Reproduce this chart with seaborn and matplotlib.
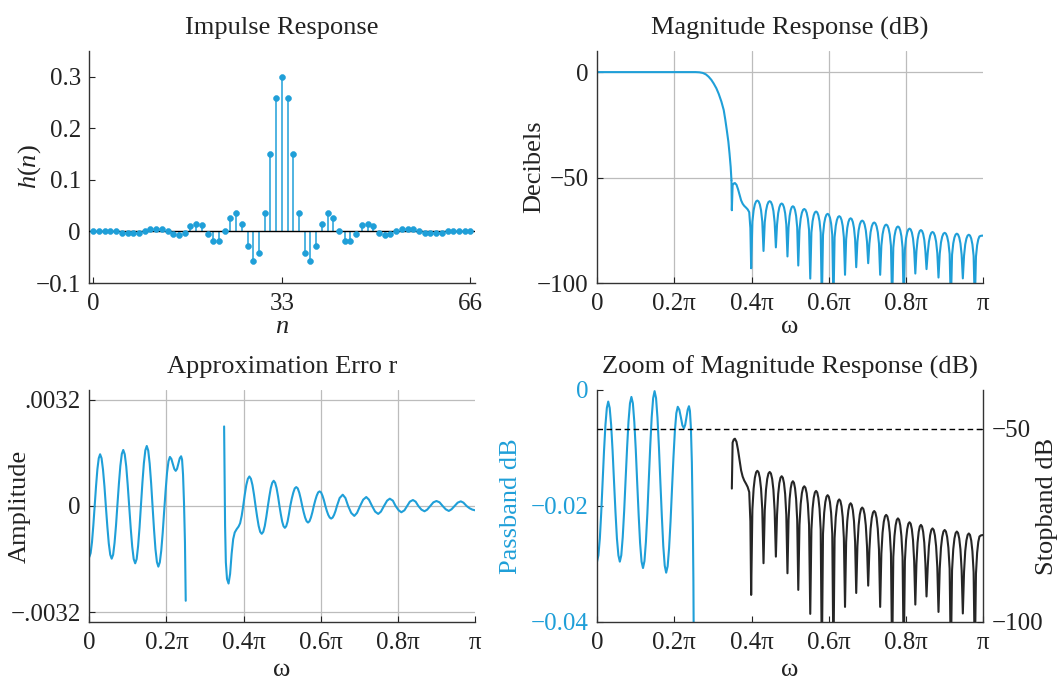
import matplotlib
matplotlib.use('Agg')
import matplotlib.pyplot as plt
import numpy as np
import seaborn as sns

sns.set_style('white')
plt.rcParams['font.family'] = ['Liberation Serif', 'DejaVu Serif']
plt.rcParams['mathtext.fontset'] = 'custom'
plt.rcParams['mathtext.rm'] = 'Liberation Serif'
plt.rcParams['mathtext.it'] = 'Liberation Serif:italic'

BLUE = '#1f9fd8'
INK = '#222222'
GRID = '#bcbcbc'

# impulse response h(n), n = 0..66
n_idx = list(range(67))
h_vals = [0.001, 0.001, 0.001, 0.001, 0.000, -0.002, -0.003, -0.003, -0.002, 0.001,
          0.004, 0.005, 0.004, 0.000, -0.005, -0.007, -0.003, 0.010, 0.015, 0.012,
          -0.005, -0.018, -0.018, 0.000, 0.026, 0.035, 0.014, -0.028, -0.058, -0.042,
          0.035, 0.151, 0.258, 0.300, 0.258, 0.151, 0.035, -0.042, -0.058, -0.028,
          0.014, 0.035, 0.026, 0.000, -0.018, -0.018, -0.005, 0.012, 0.015, 0.010,
          -0.003, -0.007, -0.005, 0.000, 0.004, 0.005, 0.004, 0.001, -0.002, -0.003,
          -0.003, -0.002, 0.000, 0.001, 0.001, 0.001, 0.001]

# magnitude response, passband + transition (omega / pi, dB)
tr_w = [0.000, 0.255, 0.265, 0.274, 0.282, 0.289, 0.296, 0.302, 0.309, 0.315,
        0.322, 0.328, 0.332, 0.336, 0.340, 0.343, 0.346, 0.348]
tr_db = [0.0, 0.0, -0.1, -0.4, -1.1, -2.2, -3.7, -5.4, -7.7, -10.3,
         -14.0, -18.0, -22.5, -27.6, -33.0, -38.6, -45.0, -51.3]

# magnitude response, stopband (omega / pi, dB), one row per lobe
sb_w = [0.349, 0.351, 0.354, 0.357, 0.361, 0.365, 0.369, 0.373, 0.377, 0.381,
        0.386, 0.390, 0.394, 0.397, 0.399,
        0.4022, 0.4054, 0.4086, 0.4118, 0.415, 0.4182, 0.4214, 0.4246, 0.4278, 0.431,
        0.4342, 0.4374, 0.4406, 0.4438, 0.447, 0.4502, 0.4534, 0.4566, 0.4598, 0.463,
        0.466, 0.469, 0.472, 0.475, 0.478, 0.481, 0.484, 0.487, 0.490, 0.493,
        0.4958, 0.4986, 0.5014, 0.5042, 0.507, 0.5098, 0.5126, 0.5154, 0.5182, 0.521,
        0.5241, 0.5272, 0.5303, 0.5334, 0.5365, 0.5396, 0.5427, 0.5458, 0.5489, 0.552,
        0.555, 0.558, 0.561, 0.564, 0.567, 0.570, 0.573, 0.576, 0.579, 0.582,
        0.585, 0.588, 0.591, 0.594, 0.597, 0.600, 0.603, 0.606, 0.609, 0.612,
        0.615, 0.618, 0.621, 0.624, 0.627, 0.630, 0.633, 0.636, 0.639, 0.642,
        0.6449, 0.6478, 0.6507, 0.6536, 0.6565, 0.6594, 0.6623, 0.6652, 0.6681, 0.671,
        0.6741, 0.6772, 0.6803, 0.6834, 0.6865, 0.6896, 0.6927, 0.6958, 0.6989, 0.702,
        0.7051, 0.7082, 0.7113, 0.7144, 0.7175, 0.7206, 0.7237, 0.7268, 0.7299, 0.733,
        0.7361, 0.7392, 0.7423, 0.7454, 0.7485, 0.7516, 0.7547, 0.7578, 0.7609, 0.764,
        0.767, 0.770, 0.773, 0.776, 0.779, 0.782, 0.785, 0.788, 0.791, 0.794,
        0.797, 0.800, 0.803, 0.806, 0.809, 0.812, 0.815, 0.818, 0.821, 0.824,
        0.8269, 0.8298, 0.8327, 0.8356, 0.8385, 0.8414, 0.8443, 0.8472, 0.8501, 0.853,
        0.8561, 0.8592, 0.8623, 0.8654, 0.8685, 0.8716, 0.8747, 0.8778, 0.8809, 0.884,
        0.8872, 0.8904, 0.8936, 0.8968, 0.900, 0.9032, 0.9064, 0.9096, 0.9128, 0.916,
        0.9191, 0.9222, 0.9253, 0.9284, 0.9315, 0.9346, 0.9377, 0.9408, 0.9439, 0.947,
        0.9501, 0.9532, 0.9563, 0.9594, 0.9625, 0.9656, 0.9687, 0.9718, 0.9749, 0.978,
        0.981, 0.984, 0.987, 0.990, 0.994, 1.000]
sb_db = [-65.5, -53.6, -52.8, -52.6, -53.4, -55.5, -58.2, -60.8, -62.4, -63.4,
         -64.3, -65.1, -66.4, -74.0, -93.0,
         -70.9, -65.5, -62.7, -61.3, -60.9, -61.3, -62.7, -65.5, -70.9, -84.8,
         -71.2, -65.8, -63.0, -61.6, -61.2, -61.6, -63.0, -65.8, -71.2, -83.1,
         -72.3, -66.9, -64.1, -62.7, -62.3, -62.7, -64.1, -66.9, -72.3, -87.4,
         -73.6, -68.2, -65.4, -64.0, -63.6, -64.0, -65.4, -68.2, -73.6, -91.7,
         -74.9, -69.5, -66.7, -65.3, -64.9, -65.3, -66.7, -69.5, -74.9, -97.9,
         -76.1, -70.7, -67.9, -66.5, -66.1, -66.5, -67.9, -70.7, -76.1, -110.0,
         -77.2, -71.8, -69.0, -67.6, -67.2, -67.6, -69.0, -71.8, -77.2, -110.0,
         -78.3, -72.9, -70.1, -68.7, -68.3, -68.7, -70.1, -72.9, -78.3, -96.1,
         -79.3, -73.9, -71.1, -69.7, -69.3, -69.7, -71.1, -73.9, -79.3, -92.5,
         -80.4, -75.0, -72.2, -70.8, -70.4, -70.8, -72.2, -75.0, -80.4, -90.6,
         -81.3, -75.9, -73.1, -71.7, -71.3, -71.7, -73.1, -75.9, -81.3, -96.1,
         -82.3, -76.9, -74.1, -72.7, -72.3, -72.7, -74.1, -76.9, -82.3, -110.0,
         -83.2, -77.8, -75.0, -73.6, -73.2, -73.6, -75.0, -77.8, -83.2, -110.0,
         -84.2, -78.8, -76.0, -74.6, -74.2, -74.6, -76.0, -78.8, -84.2, -95.5,
         -84.9, -79.5, -76.7, -75.3, -74.9, -75.3, -76.7, -79.5, -84.9, -93.4,
         -85.8, -80.4, -77.6, -76.2, -75.8, -76.2, -77.6, -80.4, -85.8, -97.4,
         -86.2, -80.8, -78.0, -76.6, -76.2, -76.6, -78.0, -80.8, -86.2, -110.0,
         -86.6, -81.2, -78.4, -77.0, -76.6, -77.0, -78.4, -81.2, -86.6, -97.8,
         -87.1, -81.7, -78.9, -77.5, -77.1, -77.5, -78.9, -81.7, -87.1, -110.0,
         -87.5, -82.1, -79.3, -77.9, -77.6, -77.5]

# approximation error, passband (omega / pi, amplitude x 1e-3)
pe_w = [0.000, 0.0035, 0.007, 0.0105, 0.014, 0.0175, 0.021, 0.0245, 0.028,
        0.0318, 0.0355, 0.0393, 0.043, 0.0468, 0.0505, 0.0543, 0.058,
        0.0618, 0.0655, 0.0693, 0.073, 0.0768, 0.0805, 0.0843, 0.088,
        0.0919, 0.0958, 0.0996, 0.1035, 0.1074, 0.1113, 0.1151, 0.119,
        0.1228, 0.1265, 0.1303, 0.134, 0.1378, 0.1415, 0.1453, 0.149,
        0.1528, 0.1565, 0.1603, 0.164, 0.1678, 0.1715, 0.1753, 0.179,
        0.1828, 0.1865, 0.1903, 0.194, 0.1978, 0.2015, 0.2053, 0.209,
        0.2128, 0.2165, 0.2203, 0.224, 0.2275, 0.231, 0.2345, 0.238,
        0.2405, 0.243, 0.2455, 0.248, 0.250]
pe_milli = [-1.54, -1.42, -1.09, -0.58, 0.01, 0.60, 1.11, 1.44, 1.56,
            1.44, 1.10, 0.59, -0.02, -0.62, -1.13, -1.47, -1.59,
            -1.47, -1.11, -0.58, 0.05, 0.68, 1.21, 1.57, 1.69,
            1.56, 1.19, 0.63, -0.02, -0.67, -1.23, -1.60, -1.73,
            -1.60, -1.21, -0.64, 0.04, 0.72, 1.29, 1.68, 1.81,
            1.67, 1.28, 0.69, -0.01, -0.71, -1.30, -1.69, -1.83,
            -1.70, -1.35, -0.81, -0.17, 0.46, 1.00, 1.35, 1.48,
            1.42, 1.27, 1.12, 1.06, 1.12, 1.28, 1.44, 1.50,
            1.40, 0.95, 0.10, -1.10, -2.86]

# approximation error, stopband (omega / pi, amplitude x 1e-3)
es_w = [0.3495, 0.3505, 0.352, 0.354, 0.357, 0.361, 0.365, 0.369, 0.373, 0.377,
        0.382, 0.387, 0.391, 0.395, 0.399,
        0.403, 0.407, 0.411, 0.415, 0.419, 0.423, 0.427, 0.431,
        0.435, 0.439, 0.443, 0.447, 0.451, 0.455, 0.459, 0.463,
        0.4668, 0.4705, 0.4743, 0.478, 0.4818, 0.4855, 0.4893, 0.493,
        0.4965, 0.500, 0.5035, 0.507, 0.5105, 0.514, 0.5175, 0.521,
        0.5249, 0.5288, 0.5326, 0.5365, 0.5404, 0.5443, 0.5481, 0.552,
        0.5558, 0.5595, 0.5633, 0.567, 0.5708, 0.5745, 0.5783, 0.582,
        0.5858, 0.5895, 0.5933, 0.597, 0.6008, 0.6045, 0.6083, 0.612,
        0.6158, 0.6195, 0.6233, 0.627, 0.6308, 0.6345, 0.6383, 0.642,
        0.649, 0.657, 0.664, 0.671, 0.679, 0.687, 0.694, 0.702,
        0.710, 0.718, 0.725, 0.733, 0.741, 0.749, 0.756, 0.764,
        0.772, 0.779, 0.787, 0.794, 0.802, 0.809, 0.817, 0.824,
        0.831, 0.839, 0.846, 0.853, 0.861, 0.869, 0.876, 0.884,
        0.892, 0.900, 0.908, 0.916, 0.924, 0.932, 0.939, 0.947,
        0.955, 0.963, 0.970, 0.978, 0.986, 0.993, 1.000]
es_milli = [2.40, 1.20, -0.60, -1.70, -2.20, -2.34, -2.05, -1.44, -1.00, -0.80,
            -0.70, -0.62, -0.52, -0.30, 0.00,
            0.34, 0.63, 0.82, 0.89, 0.82, 0.63, 0.34, 0.00,
            -0.32, -0.60, -0.78, -0.84, -0.78, -0.60, -0.32, 0.00,
            0.29, 0.54, 0.70, 0.76, 0.70, 0.54, 0.29, 0.00,
            -0.25, -0.47, -0.61, -0.66, -0.61, -0.47, -0.25, 0.00,
            0.22, 0.40, 0.53, 0.57, 0.53, 0.40, 0.22, 0.00,
            -0.19, -0.35, -0.46, -0.50, -0.46, -0.35, -0.19, 0.00,
            0.17, 0.31, 0.41, 0.44, 0.41, 0.31, 0.17, 0.00,
            -0.15, -0.27, -0.35, -0.38, -0.35, -0.27, -0.15, 0.00,
            0.24, 0.34, 0.24, 0.00, -0.21, -0.30, -0.21, 0.00,
            0.19, 0.27, 0.19, 0.00, -0.17, -0.24, -0.17, 0.00,
            0.16, 0.22, 0.16, 0.00, -0.13, -0.19, -0.13, 0.00,
            0.13, 0.18, 0.13, 0.00, -0.11, -0.16, -0.11, 0.00,
            0.11, 0.15, 0.11, 0.00, -0.10, -0.15, -0.10, 0.00,
            0.10, 0.14, 0.10, 0.00, -0.07, -0.11, -0.13]

# passband ripple in dB (omega / pi, dB)
pd_w = [0.000, 0.0036, 0.0073, 0.0109, 0.0145, 0.0181, 0.0218, 0.0254, 0.029,
        0.0328, 0.0365, 0.0403, 0.044, 0.0478, 0.0515, 0.0553, 0.059,
        0.0628, 0.0665, 0.0703, 0.074, 0.0778, 0.0815, 0.0853, 0.089,
        0.0928, 0.0965, 0.1003, 0.104, 0.1078, 0.1115, 0.1153, 0.119,
        0.1228, 0.1265, 0.1303, 0.134, 0.1378, 0.1415, 0.1453, 0.149,
        0.1528, 0.1565, 0.1603, 0.164, 0.1678, 0.1715, 0.1753, 0.179,
        0.1828, 0.1865, 0.1903, 0.194, 0.1978, 0.2015, 0.2053, 0.209,
        0.213, 0.217, 0.221, 0.225, 0.2283, 0.2315, 0.2348, 0.238,
        0.2405, 0.243, 0.2455, 0.248, 0.2495, 0.2505]
pd_db = [-0.0296, -0.0285, -0.0256, -0.0211, -0.0158, -0.0105, -0.0060, -0.0031, -0.0020,
         -0.0031, -0.0060, -0.0105, -0.0158, -0.0211, -0.0256, -0.0285, -0.0296,
         -0.0285, -0.0254, -0.0208, -0.0154, -0.0100, -0.0054, -0.0023, -0.0012,
         -0.0023, -0.0055, -0.0103, -0.0160, -0.0216, -0.0264, -0.0296, -0.0307,
         -0.0295, -0.0262, -0.0213, -0.0155, -0.0096, -0.0047, -0.0014, -0.0002,
         -0.0014, -0.0048, -0.0099, -0.0159, -0.0218, -0.0269, -0.0303, -0.0315,
         -0.0304, -0.0273, -0.0227, -0.0172, -0.0117, -0.0071, -0.0040, -0.0029,
         -0.0034, -0.0047, -0.0061, -0.0066, -0.0060, -0.0047, -0.0034, -0.0028,
         -0.0036, -0.0065, -0.0125, -0.0230, -0.0330, -0.0450]

pi_ticks = [0, 0.2, 0.4, 0.6, 0.8, 1.0]
pi_labels = ['0', '0.2\u03c0', '0.4\u03c0', '0.6\u03c0', '0.8\u03c0', '\u03c0']

TICK_FS = 18
LABEL_FS = 19


def style_axis(ax, sides=('left', 'bottom')):
    for s in ['top', 'right', 'left', 'bottom']:
        ax.spines[s].set_visible(s in sides)
        ax.spines[s].set_color('#333333')
        ax.spines[s].set_linewidth(1.0)
    ax.tick_params(direction='in', length=4, width=0.8, labelsize=TICK_FS,
                   colors=INK, pad=6)
    ax.tick_params(axis='x', bottom=True, pad=7)
    ax.tick_params(axis='y', left=True)


def grid_lines(ax, xs, ys):
    for x in xs:
        ax.axvline(x, color=GRID, lw=0.9, zorder=0.5)
    for y in ys:
        ax.axhline(y, color=GRID, lw=0.9, zorder=0.5)


def ylab(ax, text, x, color=INK):
    ax.set_ylabel(text, fontsize=LABEL_FS, color=color, va='center')
    ax.yaxis.set_label_coords(x, 0.5)


def xlab(ax, text, y):
    ax.set_xlabel(text, fontsize=LABEL_FS, color=INK, va='center')
    ax.xaxis.set_label_coords(0.5, y)


def curve(ax, x, y, color=BLUE):
    sns.lineplot(x=x, y=y, ax=ax, color=color, lw=1.5, sort=False, estimator=None)


fig = plt.figure(figsize=(10.58, 6.82), dpi=100)
ax_tl = fig.add_axes([0.0844, 0.585, 0.3646, 0.3402])
ax_tr = fig.add_axes([0.5643, 0.585, 0.3651, 0.3402])
ax_bl = fig.add_axes([0.0844, 0.088, 0.3646, 0.3402])
ax_br = fig.add_axes([0.5643, 0.088, 0.3651, 0.3402])

# --- impulse response
ax = ax_tl
style_axis(ax)
ax.vlines(n_idx, 0, h_vals, color=BLUE, lw=1.1, zorder=2)
ax.axhline(0, color='black', lw=1.0, zorder=3)
sns.scatterplot(x=n_idx, y=h_vals, ax=ax, color=BLUE, s=18, edgecolor=BLUE,
                linewidth=0.4, zorder=4, legend=False)
ax.set_xlim(-0.7, 66.8)
ax.set_ylim(-0.1, 0.35)
ax.set_xticks([0, 33, 66])
ax.set_xticklabels(['0', '33', '66'])
ax.set_yticks([-0.1, 0, 0.1, 0.2, 0.3])
ax.set_yticklabels(['\u22120.1', '0', '0.1', '0.2', '0.3'])
ax.set_title('Impulse Response', fontsize=LABEL_FS, color=INK, pad=12)
ylab(ax, r'$h(n)$', -0.156)
xlab(ax, r'$n$', -0.19)

# --- magnitude response
ax = ax_tr
style_axis(ax)
grid_lines(ax, [0.2, 0.4, 0.6, 0.8], [0, -50])
curve(ax, tr_w, tr_db)
curve(ax, [tr_w[-1]] + sb_w, [tr_db[-1]] + sb_db)
ax.set_xlim(0, 1)
ax.set_ylim(-100, 10)
ax.set_xticks(pi_ticks)
ax.set_xticklabels(pi_labels)
ax.set_yticks([-100, -50, 0])
ax.set_yticklabels(['\u2212100', '\u221250', '0'])
ax.set_title('Magnitude Response (dB)', fontsize=LABEL_FS, color=INK, pad=12)
ylab(ax, 'Decibels', -0.163)
xlab(ax, '\u03c9', -0.19)

# --- approximation error
ax = ax_bl
style_axis(ax)
grid_lines(ax, [0.2, 0.4, 0.6, 0.8], [0.0032, 0, -0.0032])
curve(ax, pe_w, np.array(pe_milli) * 1e-3)
curve(ax, es_w, np.array(es_milli) * 1e-3)
ax.set_xlim(0, 1)
ax.set_ylim(-0.0035, 0.0035)
ax.set_xticks(pi_ticks)
ax.set_xticklabels(pi_labels)
ax.set_yticks([-0.0032, 0, 0.0032])
ax.set_yticklabels(['\u2212.0032', '0', '.0032'])
ax.set_title('Approximation Erro r', fontsize=LABEL_FS, color=INK, pad=12)
ylab(ax, 'Amplitude', -0.18)
xlab(ax, '\u03c9', -0.205)

# --- zoom of magnitude response
ax = ax_br
style_axis(ax)
curve(ax, pd_w, pd_db)
ax.set_xlim(0, 1)
ax.set_ylim(-0.04, 0)
ax.set_xticks(pi_ticks)
ax.set_xticklabels(pi_labels)
ax.set_yticks([-0.04, -0.02, 0])
ax.set_yticklabels(['\u22120.04', '\u22120.02', '0'])
ax.tick_params(axis='y', labelcolor=BLUE)
ax.set_title('Zoom of Magnitude Response (dB)', fontsize=LABEL_FS, color=INK, pad=12)
ylab(ax, 'Passband dB', -0.222, color=BLUE)
xlab(ax, '\u03c9', -0.205)

ax2 = ax_br.twinx()
for s in ['top', 'left', 'bottom']:
    ax2.spines[s].set_visible(False)
ax2.spines['right'].set_color('#333333')
ax2.spines['right'].set_linewidth(1.0)
ax2.axhline(-50, color='black', lw=1.0, ls=(0, (4, 2.5)), zorder=1)
curve(ax2, sb_w, sb_db, color='#262626')
ax2.set_ylim(-100, -40)
ax2.set_xlim(0, 1)
ax2.set_yticks([-100, -50])
ax2.set_yticklabels(['\u2212100', '\u221250'])
ax2.tick_params(axis='y', right=True, labelright=True, direction='in', length=4,
                width=0.8, labelsize=TICK_FS, colors=INK, pad=6)
ax2.set_ylabel('Stopband dB', fontsize=LABEL_FS, color=INK, va='center', rotation=90)
ax2.yaxis.set_label_coords(1.165, 0.5)

fig.savefig('out.png', dpi=100, facecolor='white')
